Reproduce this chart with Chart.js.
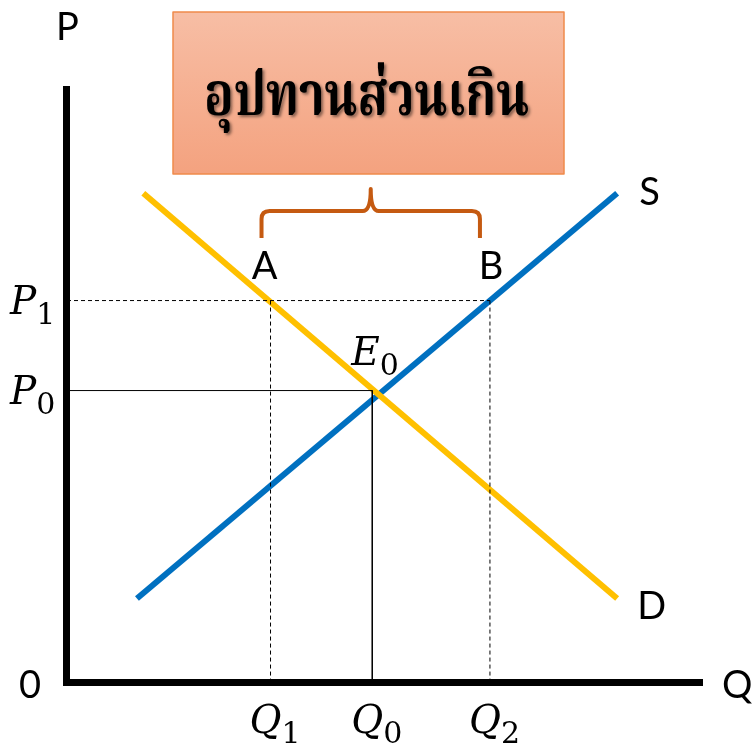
<!DOCTYPE html>
<html lang="th">
<head>
<meta charset="utf-8">
<title>อุปทานส่วนเกิน</title>
<script src="https://cdn.jsdelivr.net/npm/chart.js@4.4.1/dist/chart.umd.min.js"></script>
<style>
    html, body { margin: 0; padding: 0; background: #ffffff; }
    #wrap { position: relative; width: 756px; height: 748px; }
</style>
</head>
<body>
<div id="wrap"><canvas id="marketChart" width="756" height="748"></canvas></div>
<script>
// Both axes run from 0 to 10 (quantity Q across, price P up)
const supplyPoints = [{ x: 1.1, y: 1.4 }, { x: 8.65, y: 8.2 }];
const demandPoints = [{ x: 1.2, y: 8.2 }, { x: 8.65, y: 1.4 }];

// price levels P0, P1 and quantities Q1, Q0, Q2
const priceValues = [4.89, 6.4];
const priceSubs = ['0', '1'];
const quantityValues = [3.2, 4.8, 6.65];
const quantitySubs = ['1', '0', '2'];

const boxTitle = 'อุปทานส่วนเกิน';
const pointNames = ['A', 'B'];

const P0 = priceValues[0], P1 = priceValues[1];
const Q1 = quantityValues[0], Q0 = quantityValues[1], Q2 = quantityValues[2];

const mathFont = (size) => `italic ${size}px "DejaVu Serif", "Liberation Serif", serif`;
const subFont = (size) => `${size}px "DejaVu Serif", "Liberation Serif", serif`;
const plainFont = '38px Lato, "Noto Sans", sans-serif';

function drawMath(ctx, x, y, main, sub) {
    ctx.font = mathFont(39);
    ctx.fillText(main, x, y);
    const w = ctx.measureText(main).width;
    ctx.font = subFont(30);
    ctx.fillText(sub, x + w, y + 10);
}

// axes, labels, brace and title box
const marketLabels = {
    id: 'marketLabels',
    afterDatasetsDraw(chart) {
        const { ctx, scales: { x, y } } = chart;
        const ox = x.getPixelForValue(0);
        const oy = y.getPixelForValue(0);
        ctx.save();

        // axes
        ctx.fillStyle = '#000000';
        ctx.fillRect(ox - 4, y.top, 7, oy - y.top + 3);
        ctx.fillRect(ox - 4, oy - 3, x.right - ox + 4, 7);

        ctx.textBaseline = 'alphabetic';
        ctx.textAlign = 'left';
        ctx.fillStyle = '#000000';

        // axis names and origin
        ctx.font = plainFont;
        ctx.fillText('P', 56, 40);
        ctx.fillText('Q', x.right + 19, oy + 16);
        ctx.fillText('0', 19, oy + 16);

        // curve end labels
        const sEnd = supplyPoints[supplyPoints.length - 1];
        const dEnd = demandPoints[demandPoints.length - 1];
        ctx.fillText('S', x.getPixelForValue(sEnd.x) + 22, y.getPixelForValue(sEnd.y) + 12);
        ctx.fillText('D', x.getPixelForValue(dEnd.x) + 20, y.getPixelForValue(dEnd.y) + 20);

        // A and B above the P1 crossings
        ctx.textAlign = 'center';
        ctx.fillText(pointNames[0], x.getPixelForValue(Q1) - 6, y.getPixelForValue(P1) - 22);
        ctx.fillText(pointNames[1], x.getPixelForValue(Q2) + 1, y.getPixelForValue(P1) - 22);
        ctx.textAlign = 'left';

        // price and quantity labels
        priceValues.forEach((v, i) => {
            drawMath(ctx, 10, y.getPixelForValue(v) + 13, 'P', priceSubs[i]);
        });
        quantityValues.forEach((v, i) => {
            drawMath(ctx, x.getPixelForValue(v) - 21, 733, 'Q', quantitySubs[i]);
        });
        drawMath(ctx, x.getPixelForValue(Q0) - 21, y.getPixelForValue(P0) - 26, 'E', '0');

        // brace over A..B
        const bl = x.getPixelForValue(Q1) - 9;
        const br = x.getPixelForValue(Q2) - 10;
        const bm = (bl + br) / 2;
        const bTop = 211, bBot = 238, bTip = 189;
        ctx.strokeStyle = '#C55A11';
        ctx.lineWidth = 4;
        ctx.lineJoin = 'round';
        ctx.beginPath();
        ctx.moveTo(bl, bBot);
        ctx.lineTo(bl, bTop + 8);
        ctx.quadraticCurveTo(bl, bTop, bl + 8, bTop);
        ctx.lineTo(bm - 8, bTop);
        ctx.quadraticCurveTo(bm, bTop, bm, bTip);
        ctx.quadraticCurveTo(bm, bTop, bm + 8, bTop);
        ctx.lineTo(br - 8, bTop);
        ctx.quadraticCurveTo(br, bTop, br, bTop + 8);
        ctx.lineTo(br, bBot);
        ctx.stroke();

        // title box
        const bx = 173, by = 12, bw = 391, bh = 162;
        const grad = ctx.createLinearGradient(0, by, 0, by + bh);
        grad.addColorStop(0, '#F7BEA5');
        grad.addColorStop(1, '#F4A27F');
        ctx.fillStyle = grad;
        ctx.fillRect(bx, by, bw, bh);
        ctx.strokeStyle = '#F08A4B';
        ctx.lineWidth = 1.5;
        ctx.strokeRect(bx, by, bw, bh);

        // title text, stretched a little taller like the looped Thai face
        ctx.shadowColor = 'rgba(0, 0, 0, 0.45)';
        ctx.shadowOffsetX = 2;
        ctx.shadowOffsetY = 2;
        ctx.shadowBlur = 3;
        ctx.fillStyle = '#000000';
        ctx.textAlign = 'center';
        ctx.font = 'bold 50px "Noto Serif Thai", "Noto Sans Thai", Loma, Garuda, serif';
        ctx.translate(bx + bw / 2 - 2, 115);
        ctx.scale(0.98, 1.2);
        ctx.fillText(boxTitle, 0, 0);

        ctx.restore();
    }
};

const guideLine = (pts, dashed) => ({
    data: pts,
    borderColor: '#000000',
    borderWidth: 1,
    borderDash: dashed ? [4, 3] : [],
    pointRadius: 0,
    showLine: true,
    fill: false
});

new Chart(document.getElementById('marketChart'), {
    type: 'scatter',
    data: {
        datasets: [
            guideLine([{ x: 0, y: P1 }, { x: Q2, y: P1 }], true),
            guideLine([{ x: Q1, y: P1 }, { x: Q1, y: 0 }], true),
            guideLine([{ x: Q2, y: P1 }, { x: Q2, y: 0 }], true),
            guideLine([{ x: 0, y: P0 }, { x: Q0, y: P0 }, { x: Q0, y: 0 }], false),
            {
                label: 'D',
                data: demandPoints,
                borderColor: '#FFC000',
                borderWidth: 6,
                pointRadius: 0,
                showLine: true
            },
            {
                label: 'S',
                data: supplyPoints,
                borderColor: '#0070C0',
                borderWidth: 6,
                pointRadius: 0,
                showLine: true
            }
        ]
    },
    options: {
        responsive: false,
        animation: false,
        devicePixelRatio: 1,
        layout: { padding: { left: 67, right: 53, top: 86, bottom: 66 } },
        plugins: { legend: { display: false }, tooltip: { enabled: false } },
        scales: {
            x: { type: 'linear', min: 0, max: 10, display: false },
            y: { type: 'linear', min: 0, max: 10, display: false }
        }
    },
    plugins: [marketLabels]
});
</script>
</body>
</html>
